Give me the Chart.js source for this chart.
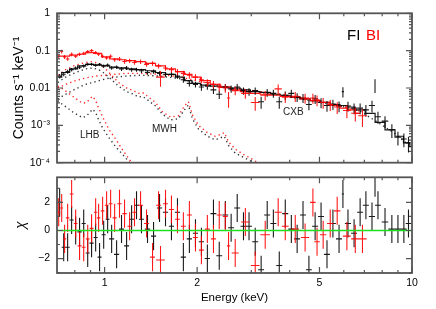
<!DOCTYPE html>
<html>
<head>
<meta charset="utf-8">
<script src="https://cdn.jsdelivr.net/npm/chart.js@4"></script>
<style>
  body { margin: 0; background: #fff; }
  #wrap { position: relative; width: 436px; height: 309px; }
  canvas { position: absolute; left: 0; }
  #top { top: 0; }
  #res { top: 164px; }
</style>
</head>
<body>
<div id="wrap">
  <canvas id="top" width="436" height="176"></canvas>
  <canvas id="res" width="436" height="145"></canvas>
</div>
<script>
// ---- data ----
// FI (black) spectrum bins: energy (keV), half width (keV), rate (counts/s/keV), relative error, residual (chi)
const FI_E = [0.714,0.736,0.758,0.781,0.805,0.829,0.855,0.881,0.907,0.935,0.963,0.993,1.023,
  1.054,1.094,1.135,1.179,1.224,1.270,1.318,
  1.379,1.443,1.509,1.578,1.650,1.726,1.804,1.887,1.975,2.065,2.159,
  2.26,2.36,2.47,2.58,2.70,2.83,2.95,3.09,3.23,3.38,3.54,3.70,3.87,4.05,4.23,4.42,4.62,4.84,5.06,5.29,5.53,5.79,
  5.96,6.19,6.48,6.78,7.08,7.41,7.58,7.75,8.17,8.60,9.00,9.41,9.74];
const FI_DE = [0.011,0.011,0.012,0.012,0.012,0.013,0.013,0.013,0.014,0.014,0.014,0.015,0.015,
  0.02,0.021,0.021,0.022,0.023,0.024,0.025,
  0.027,0.028,0.03,0.031,0.032,0.034,0.035,0.037,0.038,0.04,0.042,
  0.05,0.053,0.055,0.058,0.06,0.063,0.066,0.069,0.072,0.076,0.079,0.083,0.087,0.091,0.095,0.099,0.103,0.108,0.113,0.118,0.124,0.13,
  0.05,0.14,0.145,0.15,0.16,0.17,0.03,0.17,0.2,0.22,0.24,0.2,0.2];
const FI_RATE = [0.0208,0.0233,0.0275,0.031,0.0344,0.036,0.039,0.043,0.043,0.041,0.043,0.039,0.041,
  0.0344,0.036,0.0325,0.0344,0.031,0.031,0.029,
  0.026,0.0275,0.0246,0.0233,0.0233,0.0208,0.0166,0.0133,0.0125,0.0106,0.0112,
  0.0089,0.0068,0.0106,0.0095,0.0106,0.0085,0.0080,0.0085,0.0043,0.0076,0.0072,0.0043,0.0064,0.0072,0.0057,0.0054,0.0036,0.0051,0.0041,0.0034,0.0037,0.0033,
  0.0080,0.0033,0.0029,0.0029,0.0026,0.0034,0.0122,0.0017,0.0013,0.00076,0.00048,0.00043,0.00034];
const FI_ERR = [0.14,0.12,0.12,0.11,0.1,0.1,0.1,0.09,0.09,0.09,0.09,0.1,0.1,
  0.11,0.11,0.12,0.12,0.12,0.12,0.13,
  0.13,0.13,0.14,0.14,0.15,0.15,0.17,0.18,0.18,0.2,0.2,
  0.22,0.25,0.2,0.22,0.2,0.22,0.23,0.22,0.35,0.23,0.24,0.35,0.25,0.24,0.26,0.27,0.3,0.27,0.3,0.32,0.3,0.32,
  0.3,0.3,0.32,0.32,0.35,0.35,0.4,0.35,0.35,0.4,0.4,0.4,0.45];
const FI_RES = [2.0,-1.2,-1.2,0.75,0.0,-0.1,0.5,-1.6,-0.9,-0.5,-1.9,-0.3,0.8,
  -0.6,-1.7,0.1,-1.1,0.8,1.8,0.8,
  0.1,-0.4,1.6,1.3,0.3,1.3,-1.9,-0.6,-0.2,-0.8,-2.0,
  1.2,-1.8,1.1,0.2,1.6,0.3,0.3,-0.8,-2.8,1.1,0.5,-2.5,1.2,0.1,-0.6,1.1,-2.8,0.3,1.0,-1.7,0.5,-0.6,
  2.6,0.5,-0.2,1.3,1.8,1.0,3.4,1.8,0.6,0.1,0.1,0.1,0.5];

// BI (red) spectrum bins
const BI_E = [0.709,0.725,0.741,0.758,0.781,0.805,0.829,0.855,0.881,0.907,0.935,0.956,0.985,
  1.015,1.046,1.078,1.118,1.161,1.206,1.251,1.309,1.369,1.432,1.498,1.520,
  1.578,1.650,1.726,1.804,1.887,1.975,2.065,2.159,2.26,2.36,2.47,2.53,
  2.66,2.87,3.09,3.33,3.67,3.87,4.17,4.49,4.76,4.91,5.14,5.42,5.71,6.14,6.54,6.90];
const BI_DE = [0.008,0.008,0.009,0.01,0.011,0.011,0.012,0.012,0.012,0.013,0.012,0.012,0.013,
  0.014,0.015,0.016,0.018,0.019,0.02,0.021,0.024,0.025,0.026,0.027,0.05,
  0.028,0.03,0.031,0.033,0.035,0.036,0.038,0.04,0.042,0.044,0.046,0.03,
  0.07,0.09,0.1,0.12,0.1,0.1,0.12,0.14,0.1,0.1,0.12,0.13,0.14,0.18,0.2,0.22];
const BI_RATE = [0.071,0.095,0.068,0.060,0.080,0.071,0.080,0.085,0.095,0.100,0.089,0.080,0.071,
  0.064,0.071,0.057,0.060,0.051,0.054,0.048,0.051,0.043,0.0456,0.039,0.0196,
  0.0344,0.031,0.0275,0.0246,0.022,0.0196,0.0166,0.014,0.0125,0.0106,0.0100,0.0054,
  0.0085,0.0072,0.0041,0.0064,0.0095,0.0057,0.0060,0.0054,0.0054,0.0048,0.0041,0.0036,0.0031,0.0025,0.0021,0.0018];
const BI_ERR = [0.12,0.12,0.12,0.11,0.11,0.1,0.1,0.1,0.1,0.1,0.1,0.1,0.11,
  0.11,0.11,0.12,0.12,0.13,0.13,0.13,0.14,0.14,0.14,0.15,0.45,
  0.16,0.17,0.18,0.18,0.2,0.2,0.21,0.22,0.23,0.24,0.25,0.45,
  0.25,0.28,0.4,0.28,0.3,0.3,0.3,0.3,0.3,0.32,0.32,0.33,0.35,0.38,0.4,0.5];
const BI_RES = [1.3,1.6,-0.6,0.9,2.6,0.5,-1.1,-1.2,-0.6,0.15,1.3,0.9,1.4,
  1.8,1.9,0.9,1.9,1.2,0.3,1.3,1.8,0.5,-1.9,1.8,-2.1,
  1.9,1.5,0.8,0.3,1.1,-0.5,-1.4,0.1,-0.6,1.1,1.0,-1.1,
  -1.6,0.6,-2.5,-0.3,1.3,0.3,0.1,-0.5,2.0,-0.8,-0.3,0.5,1.4,-0.4,-0.6,-0.6];

// total model (solid step lines)
const MODEL_E = [0.704,0.747,0.793,0.842,0.894,0.949,1.008,1.070,1.135,1.215,1.309,1.410,1.520,1.638,1.765,1.873,1.975,2.127,2.29,2.47,
  2.66,2.87,3.09,3.33,3.59,3.87,4.17,4.49,4.84,5.22,5.62,6.05,6.29,6.78,7.31,7.87,8.48,9.14,9.63,10];
const FI_MODEL = [0.0196,0.026,0.0325,0.039,0.043,0.041,0.039,0.036,0.0344,0.0325,0.031,0.029,0.026,0.0233,0.0196,0.0157,0.0133,0.0119,0.0112,0.0106,
  0.0100,0.0089,0.0080,0.0076,0.0068,0.0064,0.0057,0.0051,0.0046,0.0041,0.0036,0.0034,0.0031,0.0026,0.0021,0.0012,0.00076,0.00051,0.00034,0.00027];
const BI_MODEL = [0.071,0.071,0.076,0.080,0.089,0.085,0.068,0.060,0.057,0.054,0.051,0.0456,0.039,0.0325,0.0275,0.0233,0.0196,0.0157,0.0125,0.0106,
  0.0089,0.0080,0.0072,0.0068,0.0064,0.0060,0.0057,0.0051,0.0046,0.0041,0.0034,0.0029,0.0026,0.0021,null,null,null,null,null,null];

// model components (dotted)
const MWH_E = [0.704,0.747,0.805,0.868,0.914,0.956,1.0,1.046,1.110,1.179,1.242,1.289,1.328,1.379,1.464,1.543,1.638,1.738,1.818,1.873,
  1.931,2.020,2.159,2.29,2.38,2.45,2.53,2.66,2.83,3.02,3.21];
const FI_MWH = [0.0140,0.0196,0.026,0.0325,0.0344,0.031,0.0246,0.0176,0.0112,0.0080,0.0068,0.0057,0.0060,0.0048,0.0033,0.0020,0.0014,0.0015,0.0026,0.0035,
  0.0015,0.00080,0.00051,0.00041,0.00046,0.00051,0.00029,0.00018,0.00014,0.000106,0.000075];
const BI_MWH = [0.022,0.031,0.041,0.048,0.051,0.0456,0.0344,0.0233,0.0140,0.0100,0.0085,0.0072,0.0076,0.0060,0.0041,0.0023,0.00166,0.0018,0.0033,0.0043,
  0.0019,0.0010,0.00064,0.00051,0.00057,0.00064,0.00036,0.00023,0.000166,0.000125,0.00009];
const CXB_E = [0.704,0.747,0.805,0.868,0.935,1.008,1.086,1.170,1.309,1.520,1.765,2.05,2.38,2.764,3.21,3.73,4.33,5.03,5.84,6.78,7.87,8.81,10];
const FI_CXB = [0.0051,0.0068,0.0095,0.0125,0.0148,0.0176,0.0196,0.0208,0.022,0.0208,0.0176,0.0125,0.0106,0.0095,0.0076,0.0064,0.0051,0.0041,0.0033,0.0024,0.0011,0.0006,0.00025];
const BI_CXB = [0.0100,0.0125,0.0157,0.0186,0.0208,0.022,0.0233,0.0246,0.0246,0.0233,0.0196,0.0148,0.0112,0.0095,0.0080,0.0068,0.0054,0.0043,0.0033,0.0024,null,null,null];
const LHB_E = [0.704,0.730,0.758,0.787,0.817,0.848,0.874,0.894,0.914,0.935,0.956,0.985,1.030,1.086,1.144,1.215,1.289];
const FI_LHB = [0.0046,0.0036,0.0029,0.0023,0.0019,0.0016,0.0018,0.0022,0.0027,0.0022,0.0014,0.00085,0.00048,0.00027,0.000166,0.000095,0.00005];
const BI_LHB = [0.0112,0.0095,0.0076,0.0060,0.0048,0.0039,0.0041,0.0051,0.0060,0.0046,0.0029,0.0017,0.00080,0.00043,0.00022,0.00011,0.000057];

// axes
const X_MIN = 0.704, X_MAX = 10;
const X_MAJOR = [1, 2, 5, 10];
const X_LABELS = ['1', '2', '5', '10'];
const X_MINOR = [0.8, 0.9, 3, 4, 6, 7, 8, 9];
const Y_MIN = 1e-4, Y_MAX = 1;
const Y_MAJOR = [1e-4, 1e-3, 0.01, 0.1, 1];
const Y_LABELS = ['10\u207B\u2074', '10\u207B\u00B3', '0.01', '0.1', '1'];
const R_MIN = -3.03, R_MAX = 3.79;
const R_MAJOR = [-2, 0, 2];
const R_LABELS = ['\u22122', '0', '2'];
const R_MINOR = [-3, -1, 1, 3];

const Y_MINOR = [];
for (let d = -4; d < 0; d++) for (let m = 2; m <= 9; m++) Y_MINOR.push(m * Math.pow(10, d));

const BLACK = 'rgba(0,0,0,0.9)';
const RED = 'rgba(255,0,0,0.9)';
const FONT = '"Liberation Sans", Arial, Helvetica, sans-serif';
Chart.defaults.font.family = FONT;
Chart.defaults.color = '#000';

// ---- helpers ----
function pts(xs, ys) {
  return xs.map((x, i) => ({x: x, y: ys[i]})).filter(p => p.y !== null);
}
function spectrum(xs, dxs, ys, errs) {
  return xs.map((x, i) => ({x: x, y: ys[i], dx: dxs[i], yl: ys[i] * (1 - errs[i]), yh: ys[i] * (1 + errs[i])}));
}
function residuals(xs, dxs, rs) {
  return xs.map((x, i) => ({x: x, y: rs[i], dx: dxs[i], yl: rs[i] - 1, yh: rs[i] + 1}));
}
function modelLine(data, color) {
  return {data: data, borderColor: color, borderWidth: 1.2, pointRadius: 0, stepped: 'middle', clip: 0};
}
function dotted(data, color) {
  return {data: data, borderColor: color, borderWidth: 1.4, borderDash: [1.3, 3.2], pointRadius: 0, clip: 0};
}
function crosses(data, color) {
  return {data: data, borderColor: color, showLine: false, pointRadius: 0, errorBars: true};
}

// draws the data crosses through the chart scales
const errorBars = {
  id: 'errorBars',
  draw(chart) {
    const {ctx, chartArea: a, scales: {x, y}} = chart;
    ctx.save();
    ctx.beginPath();
    ctx.rect(a.left, a.top, a.right - a.left, a.bottom - a.top);
    ctx.clip();
    chart.data.datasets.forEach(ds => {
      if (!ds.errorBars) return;
      ctx.strokeStyle = ds.borderColor;
      ctx.lineWidth = 1.1;
      ctx.beginPath();
      ds.data.forEach(p => {
        const px = x.getPixelForValue(p.x), py = y.getPixelForValue(p.y);
        ctx.moveTo(x.getPixelForValue(p.x - p.dx), py);
        ctx.lineTo(x.getPixelForValue(p.x + p.dx), py);
        ctx.moveTo(px, y.getPixelForValue(p.yl));
        ctx.lineTo(px, y.getPixelForValue(p.yh));
      });
      ctx.stroke();
    });
    ctx.restore();
  },
  beforeDatasetsDraw(chart, args, o) { if (o.under) this.draw(chart); },
  afterDatasetsDraw(chart, args, o) { if (!o.under) this.draw(chart); }
};

// frame, inward ticks and text annotations
const decor = {
  id: 'decor',
  afterDraw(chart, args, o) {
    const {ctx, chartArea: a, scales: {x, y}} = chart;
    ctx.save();
    ctx.strokeStyle = '#555';
    ctx.lineWidth = 1.2;
    ctx.beginPath();
    const xt = (v, len) => {
      const p = x.getPixelForValue(v);
      ctx.moveTo(p, a.bottom); ctx.lineTo(p, a.bottom - len);
      ctx.moveTo(p, a.top); ctx.lineTo(p, a.top + len);
    };
    const yt = (v, len) => {
      const p = y.getPixelForValue(v);
      ctx.moveTo(a.left, p); ctx.lineTo(a.left + len, p);
      ctx.moveTo(a.right, p); ctx.lineTo(a.right - len, p);
    };
    X_MAJOR.forEach(v => xt(v, 6));
    X_MINOR.forEach(v => xt(v, 3));
    o.yMajor.forEach(v => yt(v, 6));
    o.yMinor.forEach(v => yt(v, 3));
    ctx.stroke();
    ctx.lineWidth = 1.8;
    ctx.strokeRect(a.left, a.top, a.right - a.left, a.bottom - a.top);
    (o.texts || []).forEach(t => {
      ctx.font = t.font;
      ctx.fillStyle = t.color;
      ctx.textAlign = t.align || 'center';
      ctx.textBaseline = 'middle';
      const px = t.e !== undefined ? x.getPixelForValue(t.e) : a.right + t.rx;
      const py = t.v !== undefined ? y.getPixelForValue(t.v) : a.top + t.ry;
      ctx.fillText(t.text, px, py);
    });
    ctx.restore();
  }
};

// ---- upper panel: spectra ----
new Chart(document.getElementById('top'), {
  type: 'line',
  data: {
    datasets: [
      modelLine(pts(MODEL_E, BI_MODEL), RED),
      modelLine(pts(MODEL_E, FI_MODEL), BLACK),
      dotted(pts(MWH_E, BI_MWH), 'rgba(255,0,0,0.85)'),
      dotted(pts(MWH_E, FI_MWH), 'rgba(0,0,0,0.8)'),
      dotted(pts(CXB_E, BI_CXB), 'rgba(255,0,0,0.85)'),
      dotted(pts(CXB_E, FI_CXB), 'rgba(0,0,0,0.8)'),
      dotted(pts(LHB_E, BI_LHB), 'rgba(255,0,0,0.85)'),
      dotted(pts(LHB_E, FI_LHB), 'rgba(0,0,0,0.8)'),
      crosses(spectrum(FI_E, FI_DE, FI_RATE, FI_ERR), BLACK),
      crosses(spectrum(BI_E, BI_DE, BI_RATE, BI_ERR), RED)
    ]
  },
  options: {
    responsive: false,
    animation: false,
    events: [],
    layout: {padding: {top: 10, bottom: 2, left: 0, right: 24}},
    plugins: {
      legend: {display: false},
      tooltip: {enabled: false},
      errorBars: {under: false},
      decor: {
        yMajor: Y_MAJOR,
        yMinor: Y_MINOR,
        texts: [
          {text: 'FI', rx: -65, ry: 23, align: 'left', color: '#000', font: '15px ' + FONT},
          {text: 'BI', rx: -46, ry: 23, align: 'left', color: '#f00', font: '15px ' + FONT},
          {text: 'LHB', e: 0.894, v: 0.00054, color: '#222', font: '10px ' + FONT},
          {text: 'MWH', e: 1.566, v: 0.0008, color: '#222', font: '10px ' + FONT},
          {text: 'CXB', e: 4.11, v: 0.0022, color: '#222', font: '10px ' + FONT}
        ]
      }
    },
    scales: {
      x: {type: 'logarithmic', min: X_MIN, max: X_MAX, display: false},
      y: {
        type: 'logarithmic', min: Y_MIN, max: Y_MAX,
        afterFit: s => { s.width = 57; },
        afterBuildTicks: s => { s.ticks = Y_MAJOR.map(v => ({value: v})); },
        grid: {display: false, drawTicks: false},
        border: {display: false},
        ticks: {autoSkip: false, padding: 7, font: {size: 10.5}, color: '#000', callback: (v, i) => Y_LABELS[i]},
        title: {display: true, text: 'Counts s\u207B\u00B9 keV\u207B\u00B9', font: {size: 14}, color: '#000', padding: {top: 11, bottom: 0}}
      }
    }
  },
  plugins: [errorBars, decor]
});

// ---- lower panel: residuals ----
new Chart(document.getElementById('res'), {
  type: 'line',
  data: {
    datasets: [
      {data: pts([X_MIN, X_MAX], [0, 0]), borderColor: '#1fe01f', borderWidth: 1.6, pointRadius: 0},
      crosses(residuals(FI_E, FI_DE, FI_RES), BLACK),
      crosses(residuals(BI_E, BI_DE, BI_RES), RED)
    ]
  },
  options: {
    responsive: false,
    animation: false,
    events: [],
    layout: {padding: {top: 10, bottom: 0, left: 0, right: 24}},
    plugins: {
      legend: {display: false},
      tooltip: {enabled: false},
      errorBars: {under: true},
      decor: {yMajor: R_MAJOR, yMinor: R_MINOR}
    },
    scales: {
      x: {
        type: 'logarithmic', min: X_MIN, max: X_MAX,
        afterFit: s => { s.height = 36; },
        afterBuildTicks: s => { s.ticks = X_MAJOR.map(v => ({value: v})); },
        grid: {display: false, drawTicks: false},
        border: {display: false},
        ticks: {autoSkip: false, maxRotation: 0, padding: 4, font: {size: 10.5}, color: '#000', callback: (v, i) => X_LABELS[i]},
        title: {display: true, text: 'Energy (keV)', font: {size: 11.5}, color: '#000', padding: {top: 0, bottom: 4}}
      },
      y: {
        min: R_MIN, max: R_MAX,
        afterFit: s => { s.width = 57; },
        afterBuildTicks: s => { s.ticks = R_MAJOR.map(v => ({value: v})); },
        grid: {display: false, drawTicks: false},
        border: {display: false},
        ticks: {autoSkip: false, padding: 7, font: {size: 10.5}, color: '#000', callback: (v, i) => R_LABELS[i]},
        title: {display: true, text: '\u03C7', font: {size: 14, style: 'italic'}, color: '#000', padding: {top: 13, bottom: 0}}
      }
    }
  },
  plugins: [errorBars, decor]
});
</script>
</body>
</html>
